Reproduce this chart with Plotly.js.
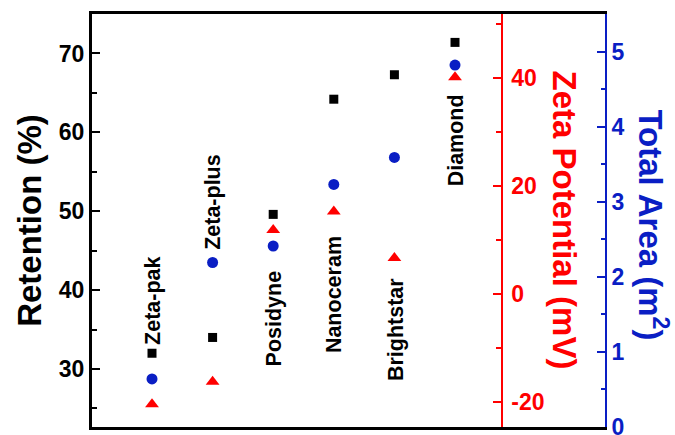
<!DOCTYPE html>
<html>
<head>
<meta charset="utf-8">
<script src="https://cdn.plot.ly/plotly-3.0.1.min.js"></script>
<style>html,body{margin:0;padding:0;background:#fff;}#chart{width:675px;height:435px;}</style>
</head>
<body>
<div id="chart"></div>
<script>
// ---- data ----
const categories = ['Zeta-pak', 'Zeta-plus', 'Posidyne', 'Nanoceram', 'Brightstar', 'Diamond'];
const retention = [32.0, 34.0, 49.6, 64.2, 67.3, 71.4];      // %
const zetaPotential = [-20.5, -16.3, 11.8, 15.2, 6.6, 40.1];  // mV
const totalArea = [0.64, 2.19, 2.41, 3.23, 3.59, 4.82];       // m^2
const retentionTicks = [30, 40, 50, 60, 70];
const zetaTicks = [-20, 0, 20, 40];
const zetaTickLabels = ['-20', '0', '20', '40'];
const areaTicks = [0, 1, 2, 3, 4, 5];

// ---- styles ----
const FONT = 'Liberation Sans, Arial, Helvetica, sans-serif';
const RED = '#ff0000';
const BLUE = '#0a1ec4';

// label anchor (bottom end of rotated text) in retention-axis units
const labelBottom = [32.8, 44.8, 30.1, 31.8, 28.2, 52.9];

const traces = [
  {x: categories, y: retention, type: 'scatter', mode: 'markers', yaxis: 'y',
   marker: {symbol: 'square', size: 9, color: '#000'}, cliponaxis: false},
  {x: categories, y: totalArea, type: 'scatter', mode: 'markers', yaxis: 'y3',
   marker: {symbol: 'circle', size: 11, color: BLUE}, cliponaxis: false},
  {x: categories, y: zetaPotential, type: 'scatter', mode: 'markers', yaxis: 'y2',
   marker: {symbol: 'triangle-up', size: 12, color: RED}, cliponaxis: false}
];

const annotations = categories.map((c, i) => ({
  x: c, y: labelBottom[i], xref: 'x', yref: 'y', xshift: 1,
  text: c, textangle: -90, showarrow: false, yanchor: 'bottom', xanchor: 'center',
  font: {family: FONT, size: 21.5, color: '#000', weight: 'bold'}
}));
annotations.push({
  xref: 'paper', yref: 'paper', x: 0.922, y: 0.5, text: 'Zeta Potential (mV)',
  textangle: 90, showarrow: false, xanchor: 'center', yanchor: 'middle',
  font: {family: FONT, size: 33, color: RED, weight: 'bold'}
});
annotations.push({
  xref: 'paper', yref: 'paper', x: 1.094, y: 0.49, text: 'Total Area (m<sup>2</sup>)',
  textangle: 90, showarrow: false, xanchor: 'center', yanchor: 'middle',
  font: {family: FONT, size: 33, color: BLUE, weight: 'bold'}
});

const layout = {
  width: 675, height: 435,
  margin: {l: 92, r: 70, t: 14, b: 8, pad: 0},
  paper_bgcolor: '#fff', plot_bgcolor: '#fff',
  showlegend: false,
  font: {family: FONT},
  xaxis: {
    type: 'category', range: [-0.99, 7.475], showticklabels: false, ticks: '',
    showline: true, linewidth: 3, linecolor: '#000', mirror: true,
    showgrid: false, zeroline: false
  },
  yaxis: {
    range: [22.65, 75.0], tickvals: retentionTicks, ticks: 'inside', ticklen: 8, tickwidth: 2,
    tickcolor: '#000', showline: true, linewidth: 3, linecolor: '#000',
    showgrid: false, zeroline: false,
    tickfont: {family: FONT, size: 23, color: '#000', weight: 'bold'},
    minor: {ticks: 'inside', ticklen: 5, tickwidth: 2, tickcolor: '#000', dtick: 5, tick0: 0, showgrid: false},
    title: {text: 'Retention (%)', standoff: 8, font: {family: FONT, size: 33, color: '#000', weight: 'bold'}}
  },
  yaxis2: {
    overlaying: 'y', side: 'right', anchor: 'free', position: 0.7986,
    range: [-24.7, 51.8], tickvals: zetaTicks, ticktext: zetaTickLabels,
    ticks: 'inside', ticklen: 8, tickwidth: 2, ticklabelstandoff: 4,
    tickcolor: RED, showline: true, linewidth: 2, linecolor: RED,
    showgrid: false, zeroline: false,
    tickfont: {family: FONT, size: 23, color: RED, weight: 'bold'},
    minor: {ticks: 'inside', ticklen: 5, tickwidth: 2, tickcolor: RED, dtick: 10, tick0: 0, showgrid: false}
  },
  yaxis3: {
    overlaying: 'y', side: 'right', anchor: 'x',
    range: [-0.001, 5.5], tickvals: areaTicks, ticks: 'inside', ticklen: 8, tickwidth: 2,
    ticklabeloverflow: 'allow',
    tickcolor: BLUE, showline: true, linewidth: 2, linecolor: BLUE,
    showgrid: false, zeroline: false,
    tickfont: {family: FONT, size: 23, color: BLUE, weight: 'bold'},
    minor: {ticks: 'inside', ticklen: 4, tickwidth: 2, tickcolor: BLUE, dtick: 0.5, tick0: 0, showgrid: false}
  },
  annotations: annotations
};

Plotly.newPlot('chart', traces, layout, {staticPlot: true, displayModeBar: false});
</script>
</body>
</html>
